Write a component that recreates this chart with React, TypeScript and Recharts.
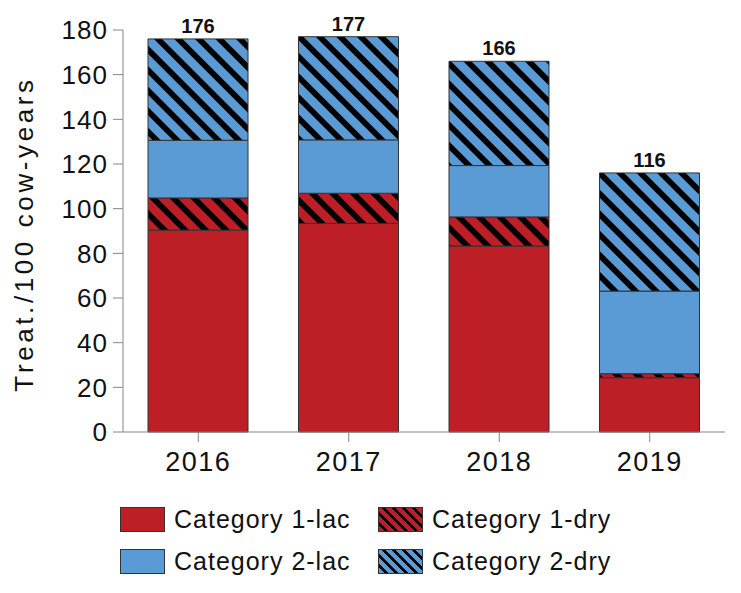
import { BarChart, Bar, XAxis, YAxis, LabelList } from 'recharts'

const years = ['2016', '2017', '2018', '2019']
const cat1Lac = [90.4, 93.4, 83.3, 24.3]
const cat1Dry = [14.4, 13.5, 13.0, 1.8]
const cat2Lac = [25.8, 23.9, 23.0, 37.0]
const cat2Dry = [45.4, 46.2, 46.7, 52.9]
const totals = [176, 177, 166, 116]
const yTicks = [0, 20, 40, 60, 80, 100, 120, 140, 160, 180]

const RED = '#BE1E26'
const BLUE = '#5B9BD5'
const AXIS = '#858585'
const FONT = '"Liberation Sans", Arial, Helvetica, sans-serif'

const data = years.map((year, i) => ({
  year,
  lac1: cat1Lac[i],
  dry1: cat1Dry[i],
  lac2: cat2Lac[i],
  dry2: cat2Dry[i],
  total: totals[i],
}))

const legendItems = [
  { name: 'Category 1-lac', color: RED, hatch: false },
  { name: 'Category 1-dry', color: RED, hatch: true },
  { name: 'Category 2-lac', color: BLUE, hatch: false },
  { name: 'Category 2-dry', color: BLUE, hatch: true },
]

function swatchBg(color: string, hatch: boolean) {
  if (!hatch) return color
  return `repeating-linear-gradient(45deg, ${color} 0px, ${color} 4px, #000 4px, #000 7px)`
}

function YLabel() {
  return (
    <text
      x={33}
      y={234}
      transform="rotate(-90, 33, 234)"
      textAnchor="middle"
      fontFamily={FONT}
      fontSize={26}
      letterSpacing={3.6}
      fill="#111"
    >
      Treat./100 cow-years
    </text>
  )
}

export default function App() {
  return (
    <div style={{ position: 'absolute', left: 0, top: 0, width: 741, height: 593, background: '#fff' }}>
      <BarChart
        width={741}
        height={593}
        data={data}
        margin={{ top: 30, right: 16, left: 0, bottom: 111 }}
        barSize={100}
      >
        <defs>
          <pattern id="hatchRed" patternUnits="userSpaceOnUse" width={14.5} height={14.5} patternTransform="rotate(45)">
            <rect width={14.5} height={14.5} fill={RED} />
            <rect width={14.5} height={5.8} fill="#000" />
          </pattern>
          <pattern id="hatchBlue" patternUnits="userSpaceOnUse" width={14.5} height={14.5} patternTransform="rotate(45)">
            <rect width={14.5} height={14.5} fill={BLUE} />
            <rect width={14.5} height={5.8} fill="#000" />
          </pattern>
        </defs>
        <XAxis
          dataKey="year"
          height={50}
          stroke={AXIS}
          tickSize={10}
          tickMargin={10}
          tick={{ fill: '#111', fontSize: 27, fontFamily: FONT, letterSpacing: 1.5 }}
        />
        <YAxis
          width={123}
          domain={[0, 180]}
          ticks={yTicks}
          interval={0}
          stroke={AXIS}
          tickSize={10}
          tickMargin={5}
          tick={{ fill: '#111', fontSize: 26, fontFamily: FONT, letterSpacing: 1 }}
          label={{ content: () => <YLabel /> }}
        />
        <Bar dataKey="lac1" stackId="a" fill={RED} stroke="#333" strokeWidth={1} isAnimationActive={false} />
        <Bar dataKey="dry1" stackId="a" fill="url(#hatchRed)" stroke="#333" strokeWidth={1} isAnimationActive={false} />
        <Bar dataKey="lac2" stackId="a" fill={BLUE} stroke="#333" strokeWidth={1} isAnimationActive={false} />
        <Bar dataKey="dry2" stackId="a" fill="url(#hatchBlue)" stroke="#333" strokeWidth={1} isAnimationActive={false}>
          <LabelList
            dataKey="total"
            position="top"
            offset={6}
            style={{ fill: '#111', fontSize: 20, fontWeight: 'bold', fontFamily: FONT }}
          />
        </Bar>
      </BarChart>
      <div
        style={{
          position: 'absolute',
          left: 120,
          top: 505,
          display: 'grid',
          gridTemplateColumns: '258px 280px',
          rowGap: 14,
          fontFamily: FONT,
          fontSize: 25,
          letterSpacing: 1,
          color: '#111',
        }}
      >
        {legendItems.map((item) => (
          <div key={item.name} style={{ display: 'flex', alignItems: 'center', height: 28 }}>
            <span
              style={{
                display: 'inline-block',
                width: 43,
                height: 23,
                border: '1px solid #333',
                background: swatchBg(item.color, item.hatch),
                marginRight: 9,
              }}
            />
            <span>{item.name}</span>
          </div>
        ))}
      </div>
    </div>
  )
}
